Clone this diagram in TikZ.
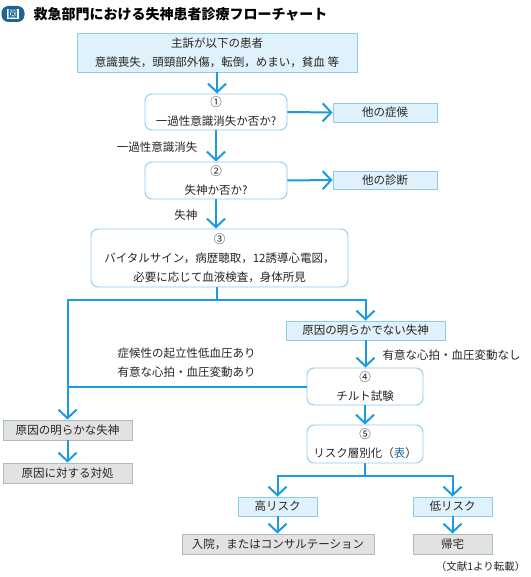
\documentclass[tikz,border=0pt]{standalone}
\usepackage{fontspec}
\setmainfont{Noto Sans CJK JP}
\usetikzlibrary{arrows.meta}

\definecolor{flowblue}{HTML}{1B9CE2}
\definecolor{boxfill}{HTML}{DFF1FB}
\definecolor{boxline}{HTML}{8FCBED}
\definecolor{grayfill}{HTML}{E2E2E2}
\definecolor{grayline}{HTML}{A6BCC9}
\definecolor{iconblue}{HTML}{1D6496}
\definecolor{textgray}{HTML}{262626}

\begin{document}
\begin{tikzpicture}[x=1pt, y=-1pt,
    every node/.style={font=\fontsize{11.5}{19}\selectfont, text=textgray},
    flow/.style={draw=flowblue, line width=2pt, -{Straight Barb[length=8.5pt, width=18pt]}},
    link/.style={draw=flowblue, line width=2pt},
    bluebox/.style={draw=boxline, fill=boxfill, line width=0.9pt, inner sep=0pt, align=center},
    roundbox/.style={draw=boxline, fill=white, rounded corners=7pt, line width=0.9pt, inner sep=0pt, align=center},
    graybox/.style={draw=grayline, fill=grayfill, line width=0.9pt, inner sep=0pt, align=center}]

    \fill[white] (0,0) rectangle (530,577);
    \useasboundingbox (0,0) rectangle (530,577);

    % title
    \node[fill=iconblue, rounded corners=7pt, minimum width=23pt, minimum height=16pt, inner sep=0pt] (icon) at (13,14) {};
    \node[fill=white, inner sep=0.8pt, text=iconblue, font=\fontsize{9.5}{10}\selectfont\bfseries] (iconchar) at (icon) {図};
    \node[anchor=west, font=\fontsize{14}{16}\selectfont\bfseries, text=black] (title) at (30,14) {救急部門における失神患者診療フローチャート};

    % boxes
    \node[bluebox, minimum width=280pt, minimum height=39pt] (top) at (217,52.5) {主訴が以下の患者\\意識喪失，頭頸部外傷，転倒，めまい，貧血 等};
    \node[roundbox, minimum width=142pt, minimum height=36pt] (q1) at (216,112) {①\\一過性意識消失か否か?};
    \node[bluebox, minimum width=104pt, minimum height=19pt] (other1) at (385,112.5) {他の症候};
    \node[roundbox, minimum width=142pt, minimum height=37pt] (q2) at (216,180.5) {②\\失神か否か?};
    \node[bluebox, minimum width=104pt, minimum height=18pt] (other2) at (385,180) {他の診断};
    \node[roundbox, minimum width=257pt, minimum height=58pt] (q3) at (219.5,258) {③\\バイタルサイン，病歴聴取，12誘導心電図，\\必要に応じて血液検査，身体所見};
    \node[bluebox, minimum width=159pt, minimum height=19pt] (unknown) at (365.5,330.5) {原因の明らかでない失神};
    \node[graybox, minimum width=129pt, minimum height=20pt] (known) at (67.5,430) {原因の明らかな失神};
    \node[graybox, minimum width=129pt, minimum height=20pt] (treat) at (67.5,473) {原因に対する対処};
    \node[roundbox, minimum width=116pt, minimum height=37pt] (tilt) at (365,386.5) {④\\チルト試験};
    \node[roundbox, minimum width=116pt, minimum height=38pt] (risk) at (365,444) {⑤\\リスク層別化（{\color{iconblue}表}）};
    \node[bluebox, minimum width=79pt, minimum height=19pt] (high) at (277.5,506.5) {高リスク};
    \node[bluebox, minimum width=79pt, minimum height=19pt] (low) at (452.5,506.5) {低リスク};
    \node[graybox, minimum width=192pt, minimum height=20pt] (admit) at (278,544) {入院，またはコンサルテーション};
    \node[graybox, minimum width=79pt, minimum height=20pt] (home) at (452.5,544) {帰宅};

    % labels
    \node[anchor=east] (lbltloc) at (201,147) {一過性意識消失};
    \node[anchor=east] (lblsync) at (201,215) {失神};
    \node[anchor=west] (lblnone) at (379,355) {有意な心拍・血圧変動なし};
    \node[anchor=west, align=left] (lblyes) at (114,363) {症候性の起立性低血圧あり\\有意な心拍・血圧変動あり};
    \node[anchor=east, font=\fontsize{10.5}{12}\selectfont] (source) at (529,567) {（文献1より転載）};

    % connectors
    \draw[flow] (top.south) -- (top.south |- q1.north);
    \draw[flow] (q1.east) -- (other1.west);
    \draw[flow] (q1.south) -- (q2.north);
    \draw[flow] (q2.east) -- (other2.west);
    \draw[flow] (q2.south) -- (q2.south |- q3.north);
    \draw[link] (q3.south -| top.south) -- ++(0,13) coordinate (split);
    \draw[flow] (split) -| (known.north);
    \draw[flow] (split) -| (unknown.north);
    \draw[flow] (unknown.south) -- (unknown.south |- tilt.north);
    \draw[link] (tilt.west) -- (tilt.west -| known.north);
    \draw[flow] (known.south) -- (treat.north);
    \draw[flow] (tilt.south) -- (risk.north);
    \draw[link] (risk.south) -- ++(0,13) coordinate (fork);
    \draw[flow] (fork) -| (high.north);
    \draw[flow] (fork) -| (low.north);
    \draw[flow] (high.south) -- (high.south |- admit.north);
    \draw[flow] (low.south) -- (home.north);
\end{tikzpicture}
\end{document}
